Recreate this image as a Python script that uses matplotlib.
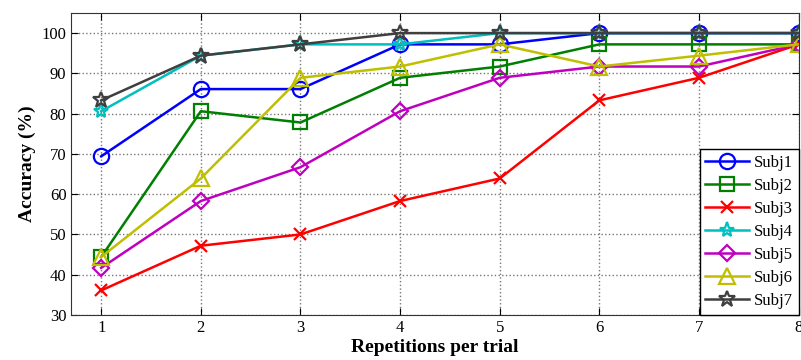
import numpy as np
import matplotlib
matplotlib.use('Agg')
import matplotlib.pyplot as plt

plt.rcParams['font.family'] = ['Liberation Serif', 'DejaVu Serif']

reps = [1, 2, 3, 4, 5, 6, 7, 8]
subj1 = [69.4, 86.1, 86.1, 97.2, 97.2, 100, 100, 100]
subj2 = [44.4, 80.6, 77.8, 88.9, 91.7, 97.2, 97.2, 97.2]
subj3 = [36.1, 47.2, 50.0, 58.3, 63.9, 83.3, 88.9, 97.2]
subj4 = [80.6, 94.4, 97.2, 97.2, 100, 100, 100, 100]
subj5 = [41.7, 58.3, 66.7, 80.6, 88.9, 91.7, 91.7, 97.2]
subj6 = [44.4, 63.9, 88.9, 91.7, 97.2, 91.7, 94.4, 97.2]
subj7 = [83.3, 94.4, 97.2, 100, 100, 100, 100, 100]
names = ['Subj1', 'Subj2', 'Subj3', 'Subj4', 'Subj5', 'Subj6', 'Subj7']

series = [subj1, subj2, subj3, subj4, subj5, subj6, subj7]
colors = ['#0000ff', '#007f00', '#ff0000', '#00bfbf', '#bf00bf', '#bfbf00', '#3f3f3f']
markers = ['o', 's', 'x', '*', 'D', '^', '*']
msizes = [11, 10, 9, 11, 8, 12, 12]

fig = plt.figure(figsize=(8.01, 3.6), dpi=100)
ax = fig.add_axes([0.089, 0.125, 0.908, 0.839])

for y, c, m, ms, n in zip(series, colors, markers, msizes, names):
    ax.plot(reps, y, color=c, marker=m, markersize=ms,
            markerfacecolor='none', markeredgecolor=c, markeredgewidth=1.6,
            linewidth=1.8, label=n)

ax.set_xlim(0.7, 8.0)
ax.set_ylim(30, 105)
ax.set_xticks(reps)
ax.set_yticks(np.arange(30, 101, 10))
ax.grid(True, linestyle=':', color='#777777', linewidth=1.0)
ax.tick_params(direction='in', top=True, right=True, labelsize=12, length=5)
for s in ax.spines.values():
    s.set_color('#333333')
ax.set_xlabel('Repetitions per trial', fontsize=14, fontweight='bold', labelpad=2)
ax.set_ylabel('Accuracy (%)', fontsize=14, fontweight='bold', labelpad=4)

leg = ax.legend(loc='lower right', fontsize=12, fancybox=False, framealpha=1,
                edgecolor='black', borderaxespad=0, handlelength=2.6,
                labelspacing=0.42, borderpad=0.35, handletextpad=0.3)
leg.get_frame().set_linewidth(1.0)

fig.savefig('out.png', dpi=100)
